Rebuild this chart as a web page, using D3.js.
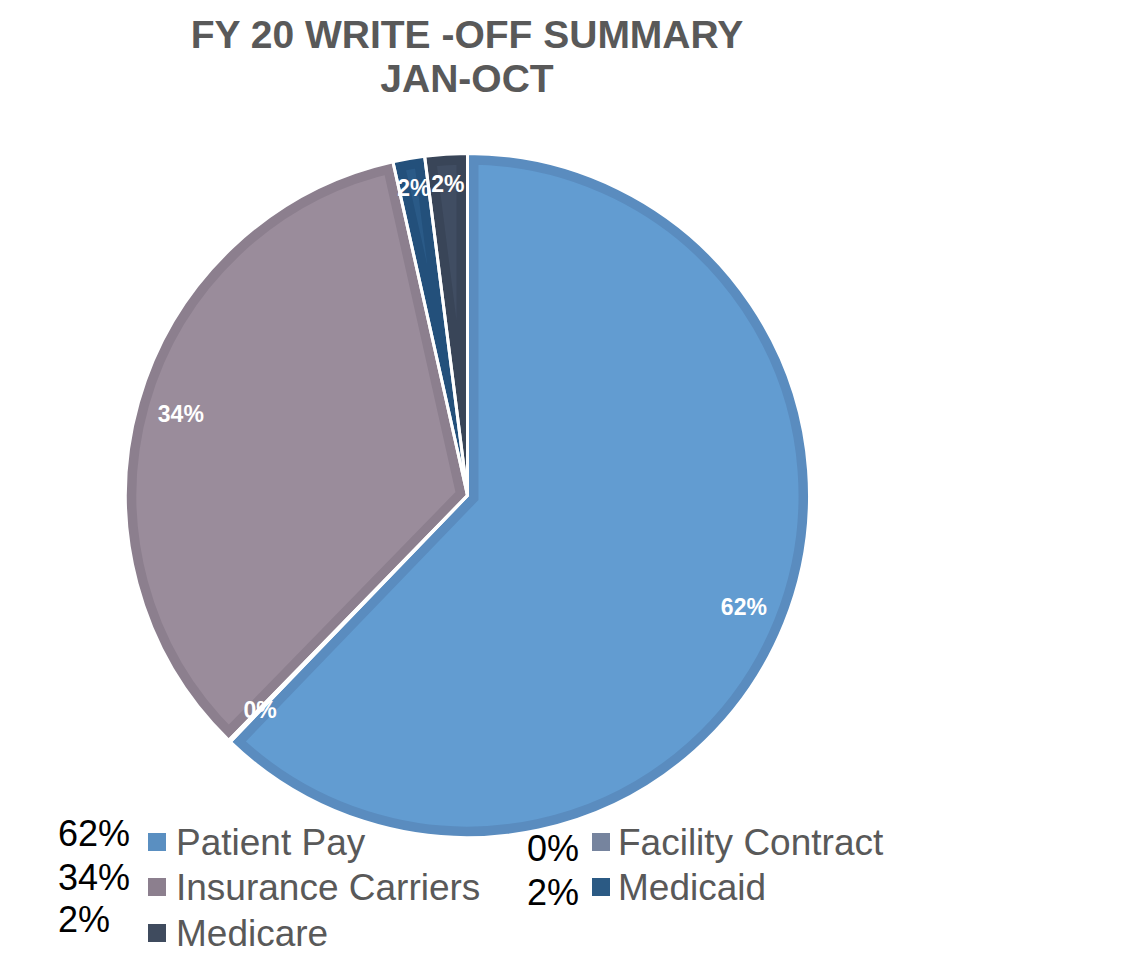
<!DOCTYPE html>
<html lang="en">
  <head>
    <meta charset="utf-8">
    <style>
      body { margin: 0; background: #fff; }
      svg { display: block; font-family: Arial, "Liberation Sans", sans-serif; }
    </style>
  </head>
  <body>
    <script src="https://d3js.org/d3.v7.min.js"></script>
    <script>
      // data (percent of write-offs)
      var categories = ["Patient Pay", "Facility Contract", "Insurance Carriers", "Medicaid", "Medicare"];
      var values = [62.2, 0.1, 34.2, 1.5, 2.0];
      var fills = ["#629cd1", "#7a89a2", "#9a8c9b", "#2a5a87", "#404d62"];
      var bands = ["#5a8cbf", "#6f7e98", "#8c7f8e", "#23507b", "#394558"];
      var legendColors = ["#5a8fc1", "#76849e", "#8c7f8e", "#2b5a84", "#3f4b5e"];

      var width = 1139, height = 963;
      var cx = 467.5, cy = 495.5, radius = 342;

      var svg = d3.select("body").append("svg")
        .attr("width", width)
        .attr("height", height);

      // title
      var title = svg.append("text")
        .attr("x", 467)
        .attr("text-anchor", "middle")
        .attr("font-weight", "bold")
        .attr("font-size", 39)
        .attr("fill", "#595959");
      title.append("tspan").attr("x", 467).attr("y", 48).text("FY 20 WRITE -OFF SUMMARY");
      title.append("tspan").attr("x", 467).attr("y", 92).text("JAN-OCT");

      var data = categories.map(function (c, i) {
        return { name: c, value: values[i], i: i };
      });

      var pie = d3.pie().sort(null).value(function (d) { return d.value; });
      var arc = d3.arc().innerRadius(0).outerRadius(radius);
      var labelArc = d3.arc().innerRadius(298).outerRadius(298);
      var smallArc = d3.arc().innerRadius(312).outerRadius(312);
      var arcs = pie(data);

      var g = svg.append("g").attr("transform", "translate(" + cx + "," + cy + ")");

      var defs = svg.append("defs");
      arcs.forEach(function (a, i) {
        defs.append("clipPath").attr("id", "clip" + i)
          .append("path").attr("d", arc(a));
      });

      // slice fill with darker inner band
      g.selectAll("path.slice")
        .data(arcs)
        .join("path")
        .attr("class", "slice")
        .attr("d", arc)
        .attr("clip-path", function (d, i) { return "url(#clip" + i + ")"; })
        .attr("fill", function (d) { return fills[d.data.i]; })
        .attr("stroke", function (d) { return bands[d.data.i]; })
        .attr("stroke-width", 22);

      // white separators
      g.selectAll("path.sep")
        .data(arcs)
        .join("path")
        .attr("class", "sep")
        .attr("d", arc)
        .attr("fill", "none")
        .attr("stroke", "#fff")
        .attr("stroke-width", 3)
        .attr("stroke-linejoin", "miter");

      // data labels
      g.selectAll("text.lbl")
        .data(arcs)
        .join("text")
        .attr("class", "lbl")
        .attr("transform", function (d) {
          var c = (d.data.value > 0.5 && d.data.value < 5) ? smallArc.centroid(d) : labelArc.centroid(d);
          return "translate(" + c[0] + "," + c[1] + ")";
        })
        .attr("text-anchor", "middle")
        .attr("dy", "0.35em")
        .attr("font-weight", "bold")
        .attr("font-size", 23)
        .attr("fill", "#fff")
        .text(function (d) { return Math.round(d.data.value) + "%"; });

      // legend (two columns, with percentage in front)
      var legendOrder = [0, 2, 4, 1, 3];
      var cols = [
        { pctX: 58, boxX: 148, textX: 176 },
        { pctX: 527, boxX: 592, textX: 618 }
      ];
      var rowY = [855, 900, 946];
      var pctY = [[846, 890, 932], [861, 905]];

      legendOrder.forEach(function (k, n) {
        var col = n < 3 ? 0 : 1;
        var row = n < 3 ? n : n - 3;
        var c = cols[col];
        var y = rowY[row];
        svg.append("text")
          .attr("x", c.pctX)
          .attr("y", pctY[col][row])
          .attr("font-size", 36)
          .attr("fill", "#000")
          .text(Math.round(values[k]) + "%");
        svg.append("rect")
          .attr("x", c.boxX)
          .attr("y", y - 22)
          .attr("width", 18)
          .attr("height", 18)
          .attr("fill", legendColors[k]);
        svg.append("text")
          .attr("x", c.textX)
          .attr("y", y)
          .attr("font-size", 37)
          .attr("fill", "#595959")
          .text(categories[k]);
      });
    </script>
  </body>
</html>
